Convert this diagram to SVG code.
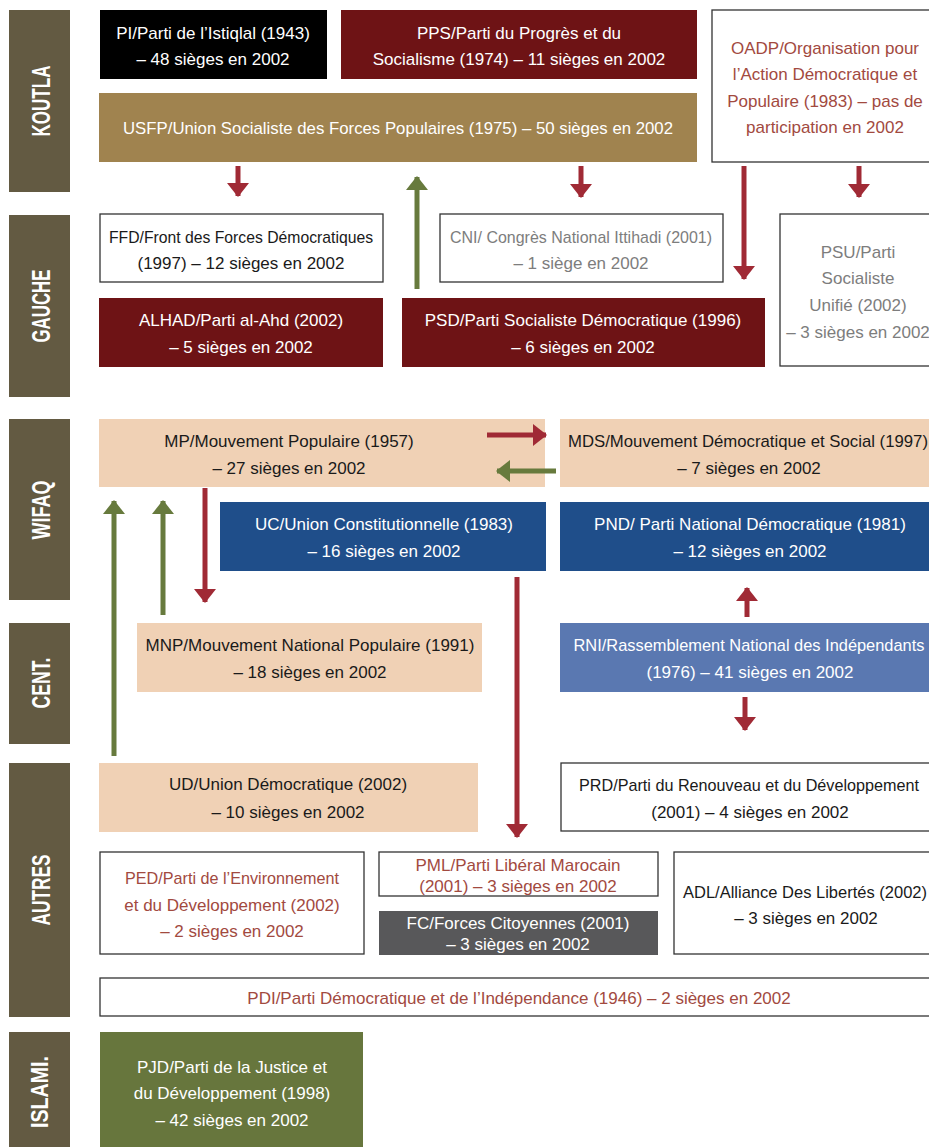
<svg xmlns="http://www.w3.org/2000/svg" width="929" height="1147" viewBox="0 0 929 1147">
<defs>
<style>
.band{fill:#635a42}
.bl{font-family:"Liberation Sans",Arial,sans-serif;font-weight:bold;font-size:26px;fill:#fff;text-anchor:middle}
.t{font-family:"Liberation Sans",Arial,sans-serif;font-size:17px;text-anchor:middle}
.w{fill:#fff}
.d{fill:#1a1a1a}
.g{fill:#7d7d7d}
.r{fill:#a24a3f}
.box{fill:#fff;stroke:#333;stroke-width:1.3}
.red{stroke:#a02a35;stroke-width:5;fill:none}
.grn{stroke:#677a3d;stroke-width:5;fill:none}
</style>
<marker id="hr" markerUnits="userSpaceOnUse" markerWidth="14" markerHeight="22" viewBox="0 0 14 22" refX="13" refY="11" orient="auto"><path d="M0,0 L14,11 L0,22 z" fill="#a02a35"/></marker>
<marker id="hg" markerUnits="userSpaceOnUse" markerWidth="14" markerHeight="22" viewBox="0 0 14 22" refX="13" refY="11" orient="auto"><path d="M0,0 L14,11 L0,22 z" fill="#677a3d"/></marker>
</defs>
<rect width="929" height="1147" fill="#fff"/>

<g id="bands">
<rect class="band" x="9" y="10" width="61" height="182"/>
<text class="bl" transform="translate(49.5,101) rotate(-90)" textLength="71" lengthAdjust="spacingAndGlyphs">KOUTLA</text>
<rect class="band" x="9" y="215" width="61" height="182"/>
<text class="bl" transform="translate(49.5,306) rotate(-90)" textLength="73" lengthAdjust="spacingAndGlyphs">GAUCHE</text>
<rect class="band" x="9" y="419" width="61" height="181"/>
<text class="bl" transform="translate(49.5,510) rotate(-90)" textLength="59" lengthAdjust="spacingAndGlyphs">WIFAQ</text>
<rect class="band" x="9" y="623" width="61" height="121"/>
<text class="bl" transform="translate(49.5,683) rotate(-90)" textLength="51" lengthAdjust="spacingAndGlyphs">CENT.</text>
<rect class="band" x="9" y="763" width="61" height="254"/>
<text class="bl" transform="translate(49.5,890) rotate(-90)" textLength="71" lengthAdjust="spacingAndGlyphs">AUTRES</text>
<rect class="band" x="9" y="1032" width="61" height="115"/>
<text class="bl" style="font-size:23px" transform="translate(48,1092) rotate(-90)" textLength="72" lengthAdjust="spacingAndGlyphs">ISLAMI.</text>
</g>

<g id="PI"><rect x="100" y="10" width="227" height="69" fill="#000"/>
<text class="t w" x="213" y="39">PI/Parti de l’Istiqlal (1943)</text><text class="t w" x="213" y="65">– 48 sièges en 2002</text></g>

<g id="PPS"><rect x="341" y="10" width="356" height="69" fill="#6e1315"/>
<text class="t w" x="519" y="39">PPS/Parti du Progrès et du</text><text class="t w" x="519" y="65">Socialisme (1974) – 11 sièges en 2002</text></g>

<g id="OADP"><rect class="box" x="712" y="10" width="227" height="152"/>
<text class="t r" x="825" y="54">OADP/Organisation pour</text><text class="t r" x="825" y="80">l’Action Démocratique et</text><text class="t r" x="825" y="107">Populaire (1983) – pas de</text><text class="t r" x="825" y="133">participation en 2002</text></g>

<g id="USFP"><rect x="99" y="93" width="598" height="69" fill="#a0834f"/>
<text class="t w" x="398" y="134" textLength="550" lengthAdjust="spacingAndGlyphs">USFP/Union Socialiste des Forces Populaires (1975) – 50 sièges en 2002</text></g>

<g id="FFD"><rect class="box" x="100" y="214" width="283" height="68"/>
<text class="t d" x="241" y="243" textLength="264" lengthAdjust="spacingAndGlyphs">FFD/Front des Forces Démocratiques</text><text class="t d" x="241" y="269">(1997) – 12 sièges en 2002</text></g>

<g id="CNI"><rect class="box" x="440" y="214" width="283" height="68"/>
<text class="t g" x="581" y="243" textLength="262" lengthAdjust="spacingAndGlyphs">CNI/ Congrès National Ittihadi (2001)</text><text class="t g" x="581" y="269">– 1 siège en 2002</text></g>

<g id="PSU"><rect class="box" x="780" y="214" width="160" height="152"/>
<text class="t g" x="858" y="258">PSU/Parti</text><text class="t g" x="858" y="284">Socialiste</text><text class="t g" x="858" y="311">Unifié (2002)</text><text class="t g" x="858" y="338">– 3 sièges en 2002</text></g>

<g id="ALHAD"><rect x="99" y="298" width="284" height="69" fill="#6e1315"/>
<text class="t w" x="241" y="326">ALHAD/Parti al-Ahd (2002)</text><text class="t w" x="241" y="353">– 5 sièges en 2002</text></g>

<g id="PSD"><rect x="402" y="298" width="363" height="69" fill="#6e1315"/>
<text class="t w" x="583" y="326">PSD/Parti Socialiste Démocratique (1996)</text><text class="t w" x="583" y="353">– 6 sièges en 2002</text></g>

<g id="MP"><rect x="99" y="419" width="446" height="68" fill="#f0d1b5"/>
<text class="t d" x="289" y="447">MP/Mouvement Populaire (1957)</text><text class="t d" x="289" y="474">– 27 sièges en 2002</text></g>

<g id="MDS"><rect x="560" y="419" width="380" height="68" fill="#f0d1b5"/>
<text class="t d" x="748" y="447" textLength="360" lengthAdjust="spacingAndGlyphs">MDS/Mouvement Démocratique et Social (1997)</text><text class="t d" x="749" y="474">– 7 sièges en 2002</text></g>

<g id="UC"><rect x="220" y="502" width="326" height="69" fill="#1f4e8a"/>
<text class="t w" x="384" y="530">UC/Union Constitutionnelle (1983)</text><text class="t w" x="384" y="557">– 16 sièges en 2002</text></g>

<g id="PND"><rect x="560" y="502" width="380" height="69" fill="#1f4e8a"/>
<text class="t w" x="750" y="530">PND/ Parti National Démocratique (1981)</text><text class="t w" x="750" y="557">– 12 sièges en 2002</text></g>

<g id="MNP"><rect x="137" y="623" width="345" height="69" fill="#f0d1b5"/>
<text class="t d" x="310" y="651">MNP/Mouvement National Populaire (1991)</text><text class="t d" x="310" y="678">– 18 sièges en 2002</text></g>

<g id="RNI"><rect x="560" y="623" width="380" height="69" fill="#5a78b1"/>
<text class="t w" x="749" y="651" textLength="351" lengthAdjust="spacingAndGlyphs">RNI/Rassemblement National des Indépendants</text><text class="t w" x="750" y="678">(1976) – 41 sièges en 2002</text></g>

<g id="UD"><rect x="99" y="763" width="379" height="69" fill="#f0d1b5"/>
<text class="t d" x="288" y="790">UD/Union Démocratique (2002)</text><text class="t d" x="288" y="818">– 10 sièges en 2002</text></g>

<g id="PRD"><rect class="box" x="561" y="763" width="379" height="68"/>
<text class="t d" x="749" y="791" textLength="340" lengthAdjust="spacingAndGlyphs">PRD/Parti du Renouveau et du Développement</text><text class="t d" x="750" y="818">(2001) – 4 sièges en 2002</text></g>

<g id="PED"><rect class="box" x="100" y="852" width="264" height="102"/>
<text class="t r" x="232" y="884" textLength="214" lengthAdjust="spacingAndGlyphs">PED/Parti de l’Environnement</text><text class="t r" x="232" y="911">et du Développement (2002)</text><text class="t r" x="232" y="937">– 2 sièges en 2002</text></g>

<g id="PML"><rect class="box" x="379" y="852" width="279" height="44"/>
<text class="t r" x="518" y="871">PML/Parti Libéral Marocain</text><text class="t r" x="518" y="892">(2001) – 3 sièges en 2002</text></g>

<g id="FC"><rect x="379" y="911" width="279" height="44" fill="#58585a"/>
<text class="t w" x="518" y="929">FC/Forces Citoyennes (2001)</text><text class="t w" x="518" y="950">– 3 sièges en 2002</text></g>

<g id="ADL"><rect class="box" x="674" y="852" width="266" height="102"/>
<text class="t d" x="805" y="898" textLength="244" lengthAdjust="spacingAndGlyphs">ADL/Alliance Des Libertés (2002)</text><text class="t d" x="806" y="924">– 3 sièges en 2002</text></g>

<g id="PDI"><rect class="box" x="100" y="978" width="840" height="38"/>
<text class="t r" x="519" y="1004">PDI/Parti Démocratique et de l’Indépendance (1946) – 2 sièges en 2002</text></g>

<g id="PJD"><rect x="100" y="1032" width="263" height="115" fill="#67763d"/>
<text class="t w" x="232" y="1073">PJD/Parti de la Justice et</text><text class="t w" x="232" y="1099">du Développement (1998)</text><text class="t w" x="232" y="1126">– 42 sièges en 2002</text></g>

<g id="connectors">
<line class="red" x1="238" y1="166" x2="238" y2="196" marker-end="url(#hr)"/>
<line class="grn" x1="417" y1="289" x2="417" y2="177" marker-end="url(#hg)"/>
<line class="red" x1="581" y1="166" x2="581" y2="197" marker-end="url(#hr)"/>
<line class="red" x1="744" y1="166" x2="744" y2="279" marker-end="url(#hr)"/>
<line class="red" x1="859" y1="166" x2="859" y2="197" marker-end="url(#hr)"/>
<line class="red" x1="487" y1="435" x2="546" y2="435" marker-end="url(#hr)"/>
<line class="grn" x1="556" y1="471" x2="497" y2="471" marker-end="url(#hg)"/>
<line class="grn" x1="114" y1="756" x2="114" y2="501" marker-end="url(#hg)"/>
<line class="grn" x1="163" y1="615" x2="163" y2="501" marker-end="url(#hg)"/>
<line class="red" x1="205" y1="488" x2="205" y2="602" marker-end="url(#hr)"/>
<line class="red" x1="517" y1="577" x2="517" y2="837" marker-end="url(#hr)"/>
<line class="red" x1="747" y1="617" x2="747" y2="588" marker-end="url(#hr)"/>
<line class="red" x1="745" y1="697" x2="745" y2="730" marker-end="url(#hr)"/>
</g>
</svg>
